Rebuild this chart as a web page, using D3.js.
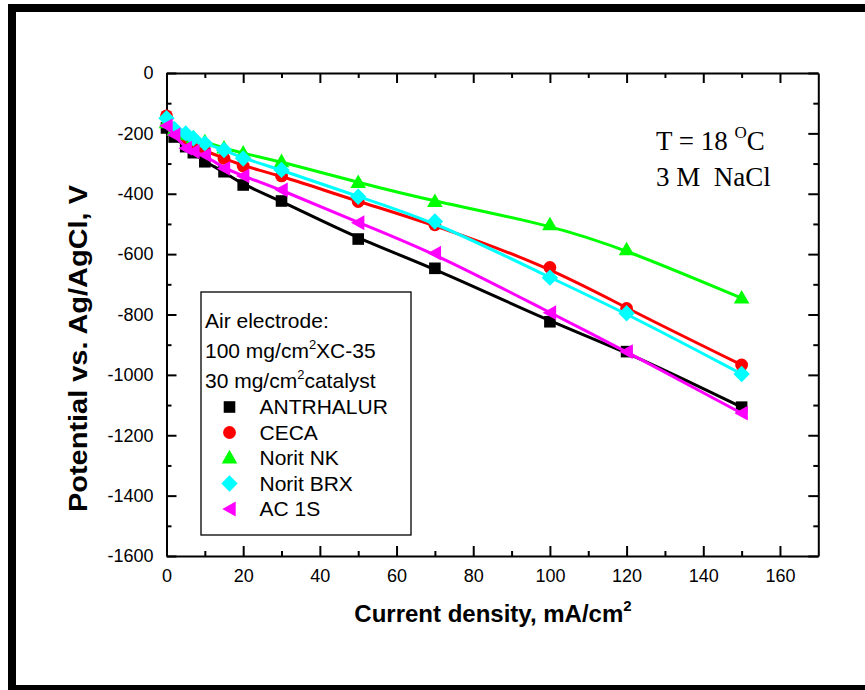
<!DOCTYPE html>
<html>
<head>
<meta charset="utf-8">
<script src="https://cdn.jsdelivr.net/npm/d3@7"></script>
<style>
  body { margin: 0; background: #fff; }
  svg { display: block; }
</style>
</head>
<body>
<svg id="chart" width="865" height="690"></svg>
<script>
// Current density, mA/cm2
const currentDensity = [0, 2, 5, 7, 10, 15, 20, 30, 50, 70, 100, 120, 150];

// Electrode potential vs. Ag/AgCl for each catalyst
const antrhalur = [-182, -212, -244, -264, -294, -327, -371, -424, -550, -647, -824, -923, -1107];
const ceca      = [-142, -190, -220, -240, -258, -283, -308, -341, -426, -503, -644, -780, -967];
const noritNK   = [-165, -190, -205, -215, -228, -249, -266, -294, -363, -426, -503, -586, -746];
const noritBRX  = [-150, -185, -200, -216, -233, -255, -283, -321, -410, -492, -678, -796, -997];
const ac1S      = [-175, -205, -249, -260, -272, -316, -341, -387, -496, -597, -794, -923, -1127];

const seriesNames = ["ANTRHALUR", "CECA", "Norit NK", "Norit BRX", "AC 1S"];
const seriesValues = [antrhalur, ceca, noritNK, noritBRX, ac1S];

const xTicks = [0, 20, 40, 60, 80, 100, 120, 140, 160];
const yTicks = [0, -200, -400, -600, -800, -1000, -1200, -1400, -1600];

// Drawing styles
const seriesColors = ["#000000", "#ff0000", "#00ff00", "#00ffff", "#ff00ff"];
const seriesShapes = ["square", "circle", "triangle", "diamond", "leftTriangle"];

const sans = "'Liberation Sans', Arial, Helvetica, sans-serif";
const serif = "'Liberation Serif', 'Times New Roman', serif";

const svg = d3.select("#chart");

// Outer frame
svg.append("rect")
  .attr("x", 12).attr("y", 8)
  .attr("width", 900).attr("height", 681)
  .attr("fill", "none").attr("stroke", "#000").attr("stroke-width", 8);

const x = d3.scaleLinear().domain([0, 170]).range([166.5, 818.3]);
const y = d3.scaleLinear().domain([-1600, 0]).range([556, 73]);

function markerPath(shape) {
  switch (shape) {
    case "square": return "M-5.8,-5.8h11.6v11.6h-11.6Z";
    case "circle": return d3.symbol(d3.symbolCircle, Math.PI * 6.4 * 6.4)();
    case "triangle": return "M0,-8.2L7.8,5.4L-7.8,5.4Z";
    case "diamond": return "M0,-8.2L8.2,0L0,8.2L-8.2,0Z";
    case "leftTriangle": return "M-7.2,0L6.2,-7.4L6.2,7.4Z";
  }
}

// Axes: ticks point inward on all four sides
const axisStyle = g => {
  g.selectAll(".domain").attr("stroke", "#000").attr("stroke-width", 2);
  g.selectAll(".tick line").attr("stroke", "#000").attr("stroke-width", 2);
  g.selectAll(".tick text")
    .attr("font-family", sans).attr("font-size", 18).attr("fill", "#000");
};

const minorX = d3.range(10, 170, 20);
const minorY = d3.range(-1500, 0, 200);

// bottom
svg.append("g").attr("transform", `translate(0,${y(-1600)})`)
  .call(d3.axisBottom(x).tickValues(xTicks).tickFormat(d3.format("d"))
    .tickSizeInner(-10).tickSizeOuter(0).tickPadding(13))
  .call(axisStyle);
svg.append("g").attr("transform", `translate(0,${y(-1600)})`)
  .call(d3.axisBottom(x).tickValues(minorX).tickFormat("").tickSizeInner(-5).tickSizeOuter(0))
  .call(g => g.select(".domain").remove())
  .call(axisStyle);

// top
svg.append("g").attr("transform", `translate(0,${y(0)})`)
  .call(d3.axisTop(x).tickValues(xTicks).tickFormat("").tickSizeInner(-10).tickSizeOuter(0))
  .call(axisStyle);
svg.append("g").attr("transform", `translate(0,${y(0)})`)
  .call(d3.axisTop(x).tickValues(minorX).tickFormat("").tickSizeInner(-5).tickSizeOuter(0))
  .call(g => g.select(".domain").remove())
  .call(axisStyle);

// left
svg.append("g").attr("transform", `translate(${x(0)},0)`)
  .call(d3.axisLeft(y).tickValues(yTicks).tickFormat(d3.format("d"))
    .tickSizeInner(-10).tickSizeOuter(0).tickPadding(13))
  .call(axisStyle)
  .call(g => g.selectAll(".tick text").text(d => d === 0 ? "0" : "-" + Math.abs(d)));
svg.append("g").attr("transform", `translate(${x(0)},0)`)
  .call(d3.axisLeft(y).tickValues(minorY).tickFormat("").tickSizeInner(-5).tickSizeOuter(0))
  .call(g => g.select(".domain").remove())
  .call(axisStyle);

// right
svg.append("g").attr("transform", `translate(${x(170)},0)`)
  .call(d3.axisRight(y).tickValues(yTicks).tickFormat("").tickSizeInner(-10).tickSizeOuter(0))
  .call(axisStyle);
svg.append("g").attr("transform", `translate(${x(170)},0)`)
  .call(d3.axisRight(y).tickValues(minorY).tickFormat("").tickSizeInner(-5).tickSizeOuter(0))
  .call(g => g.select(".domain").remove())
  .call(axisStyle);

// Smoothed trend curves with the measured points on top
const line = d3.line()
  .x(d => x(d[0]))
  .y(d => y(d[1]))
  .curve(d3.curveBasis);

seriesValues.forEach((vals, i) => {
  const pts = currentDensity.map((c, j) => [c, vals[j]]);
  const g = svg.append("g");
  g.append("path")
    .attr("d", line(pts))
    .attr("fill", "none")
    .attr("stroke", seriesColors[i])
    .attr("stroke-width", 3)
    .attr("stroke-linejoin", "round");
  g.selectAll("path.mark").data(pts).join("path")
    .attr("class", "mark")
    .attr("d", markerPath(seriesShapes[i]))
    .attr("transform", d => `translate(${x(d[0])},${y(d[1])})`)
    .attr("fill", seriesColors[i]);
});

// Legend
const legend = svg.append("g");
legend.append("rect")
  .attr("x", 201).attr("y", 292).attr("width", 210).attr("height", 243)
  .attr("fill", "#fff").attr("stroke", "#000").attr("stroke-width", 1.3);

const legendText = (yy) => legend.append("text")
  .attr("x", 205).attr("y", yy)
  .attr("font-family", sans).attr("font-size", 21).attr("fill", "#000");

legendText(328).text("Air electrode:");
const l2 = legendText(358);
l2.append("tspan").text("100 mg/cm");
l2.append("tspan").attr("font-size", 13).attr("dy", -9).text("2");
l2.append("tspan").attr("dy", 9).text("XC-35");
const l3 = legendText(388);
l3.append("tspan").text("30 mg/cm");
l3.append("tspan").attr("font-size", 13).attr("dy", -9).text("2");
l3.append("tspan").attr("dy", 9).text("catalyst");

const entryBaselines = [414, 439.5, 465, 490.5, 516];
seriesNames.forEach((name, i) => {
  legend.append("path")
    .attr("d", markerPath(seriesShapes[i]))
    .attr("transform", `translate(229.5,${entryBaselines[i] - 7})`)
    .attr("fill", seriesColors[i]);
  legend.append("text")
    .attr("x", 259.5).attr("y", entryBaselines[i])
    .attr("font-family", sans).attr("font-size", 21).attr("fill", "#000")
    .text(name);
});

// Conditions annotation
const ann1 = svg.append("text")
  .attr("x", 656).attr("y", 150)
  .attr("font-family", serif).attr("font-size", 27).attr("fill", "#000");
ann1.append("tspan").text("T = 18 ");
ann1.append("tspan").attr("font-size", 17).attr("dy", -12).text("O");
ann1.append("tspan").attr("dy", 12).text("C");
svg.append("text")
  .attr("x", 656).attr("y", 186)
  .attr("font-family", serif).attr("font-size", 27).attr("fill", "#000")
  .style("white-space", "pre")
  .text("3 M  NaCl");

// Axis titles
const xt = svg.append("text")
  .attr("x", 493).attr("y", 622)
  .attr("text-anchor", "middle")
  .attr("font-family", sans).attr("font-size", 24).attr("font-weight", "bold").attr("fill", "#000");
xt.append("tspan").text("Current density, mA/cm");
xt.append("tspan").attr("font-size", 15).attr("dy", -11).text("2");

svg.append("text")
  .attr("transform", "translate(87,348.5) rotate(-90)")
  .attr("text-anchor", "middle")
  .attr("font-family", sans).attr("font-size", 25).attr("font-weight", "bold").attr("fill", "#000")
  .attr("textLength", 327).attr("lengthAdjust", "spacingAndGlyphs")
  .text("Potential vs. Ag/AgCl, V");
</script>
</body>
</html>
